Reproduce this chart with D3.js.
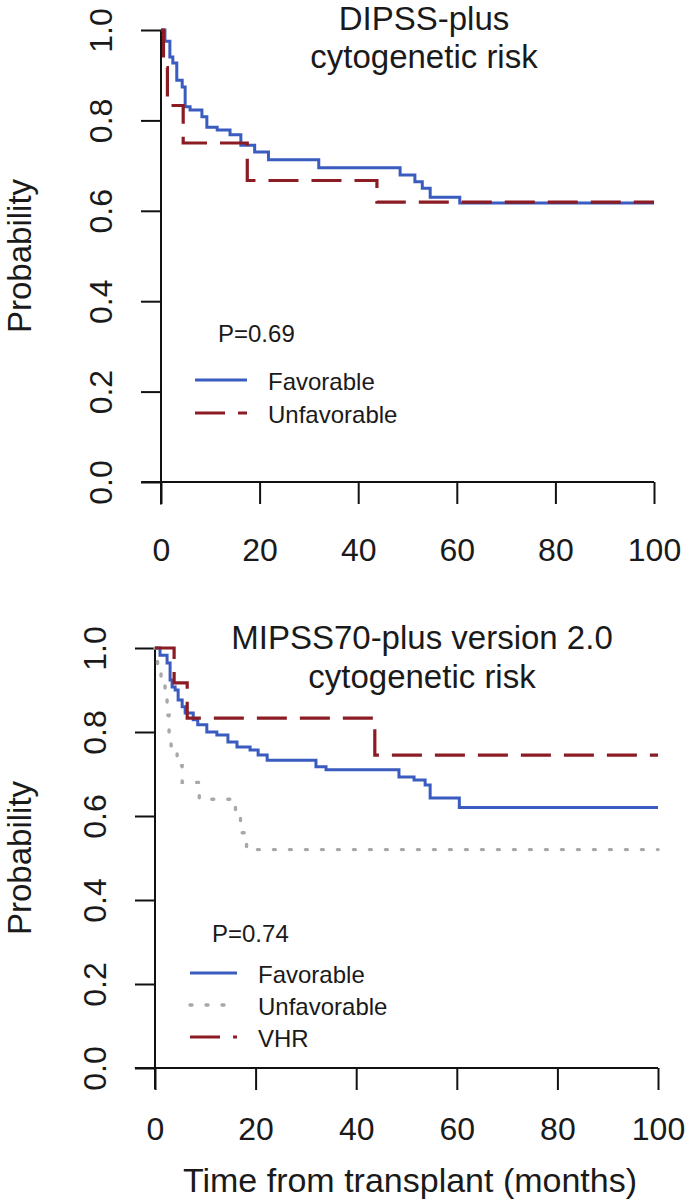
<!DOCTYPE html>
<html>
<head>
<meta charset="utf-8">
<script src="https://cdn.jsdelivr.net/npm/d3@7"></script>
<style>
body { margin: 0; background: #fff; }
text { font-family: "Liberation Sans", Arial, sans-serif; fill: #1a1a1a; }
</style>
</head>
<body>
<script>
const width = 685
const height = 1202

// tick values
const xTicks = [0, 20, 40, 60, 80, 100]
const yTicks = [0, 0.2, 0.4, 0.6, 0.8, 1.0]

// Kaplan-Meier steps: [months, probability]
const dipssFavorable = [[0, 1], [0.8, 0.975], [1.8, 0.94], [2.4, 0.927], [3.2, 0.889], [4.3, 0.874],
    [4.9, 0.83], [5.9, 0.823], [8.3, 0.808], [9.3, 0.785], [11.4, 0.779], [14, 0.768], [16.2, 0.745],
    [19, 0.73], [21.8, 0.713], [32, 0.695], [48.5, 0.679], [51.5, 0.664], [53, 0.65], [54.6, 0.63],
    [60.6, 0.617], [100, 0.617]]
const dipssUnfavorable = [[0, 1], [0.5, 0.917], [1.3, 0.833], [4.5, 0.75], [17.5, 0.667],
    [43.8, 0.619], [100, 0.619]]

const mipssFavorable = [[0, 1], [1, 0.983], [2.4, 0.964], [3, 0.924], [3.4, 0.907], [4, 0.9],
    [4.6, 0.876], [5.4, 0.86], [6, 0.845], [7.6, 0.829], [8.5, 0.817], [10.3, 0.8], [12.3, 0.793],
    [14.5, 0.776], [16.3, 0.764], [18.9, 0.757], [20.5, 0.745], [22.3, 0.733], [32, 0.717],
    [34, 0.71], [48.5, 0.693], [51.5, 0.686], [53.7, 0.674], [54.7, 0.643], [60.5, 0.62], [100, 0.62]]
const mipssUnfavorable = [[0, 1], [0.5, 0.96], [1.2, 0.92], [2, 0.88], [2.4, 0.84], [2.8, 0.8],
    [3.2, 0.76], [4.4, 0.72], [5.4, 0.68], [8.8, 0.64], [16, 0.6], [17, 0.56], [18.2, 0.52], [100, 0.52]]
const mipssVHR = [[0, 1], [3.8, 0.917], [6.4, 0.833], [43.7, 0.745], [100, 0.745]]

const xLabel = "Time from transplant (months)"

const styles = {
    favorable: {stroke: "#3a5bbf", dash: null, width: 3, cap: "butt"},
    unfavorable: {stroke: "#8b1c24", dash: "30,13", width: 3.2, cap: "butt"},
    grey: {stroke: "#a8a8a8", dash: "2,14", width: 3.4, cap: "round"}
}

const panels = [
    {
        title: ["DIPSS-plus", "cytogenetic risk"], titleX: 424, titleY: [30, 68],
        xRange: [161, 654], yRange: [482, 30], tickLabelY: 79,
        p: "P=0.69", pX: 218, pY: 342,
        legendX: 195, legendLen: 52, legendY: 390, legendStep: 33,
        series: [
            {name: "Favorable", data: dipssFavorable, style: styles.favorable},
            {name: "Unfavorable", data: dipssUnfavorable, style: styles.unfavorable}
        ]
    },
    {
        title: ["MIPSS70-plus version 2.0", "cytogenetic risk"], titleX: 422, titleY: [649, 688],
        xRange: [155, 658], yRange: [1068, 648], tickLabelY: 72,
        p: "P=0.74", pX: 212, pY: 942,
        legendX: 190, legendLen: 47, legendY: 983, legendStep: 32,
        series: [
            {name: "Favorable", data: mipssFavorable, style: styles.favorable},
            {name: "Unfavorable", data: mipssUnfavorable, style: styles.grey},
            {name: "VHR", data: mipssVHR, style: styles.unfavorable}
        ]
    }
]

const svg = d3.select("body").append("svg")
    .attr("width", width)
    .attr("height", height)
    .attr("viewBox", [0, 0, width, height])

panels.forEach(pn => {
    const x = d3.scaleLinear().domain([0, 100]).range(pn.xRange)
    const y = d3.scaleLinear().domain([0, 1]).range(pn.yRange)
    const g = svg.append("g")

    // axis lines, running a little past the origin like the original
    g.append("line")
        .attr("x1", x(-4)).attr("x2", x(100))
        .attr("y1", y(0)).attr("y2", y(0))
        .attr("stroke", "#111").attr("stroke-width", 2)
    g.append("line")
        .attr("x1", x(0)).attr("x2", x(0))
        .attr("y1", y(1)).attr("y2", y(-0.05))
        .attr("stroke", "#111").attr("stroke-width", 2)

    const xAxis = g.append("g")
        .attr("transform", `translate(0,${y(0)})`)
        .call(d3.axisBottom(x).tickValues(xTicks).tickSize(22).tickSizeOuter(0))
    xAxis.select(".domain").remove()
    xAxis.selectAll(".tick line").attr("stroke", "#111").attr("stroke-width", 2)
    xAxis.selectAll(".tick text")
        .attr("y", pn.tickLabelY).attr("dy", 0)
        .attr("font-size", 32)
        .attr("fill", "#1a1a1a")

    const yAxis = g.append("g")
        .attr("transform", `translate(${x(0)},0)`)
        .call(d3.axisLeft(y).tickValues(yTicks).tickFormat(d3.format(".1f")).tickSize(20).tickSizeOuter(0))
    yAxis.select(".domain").remove()
    yAxis.selectAll(".tick line").attr("stroke", "#111").attr("stroke-width", 2)
    yAxis.selectAll(".tick text")
        .attr("x", 0).attr("y", 0).attr("dy", 0)
        .attr("transform", "translate(-49,0) rotate(-90)")
        .attr("text-anchor", "middle")
        .attr("font-size", 32)
        .attr("fill", "#1a1a1a")

    g.append("text")
        .attr("transform", `translate(31,${(pn.yRange[0] + pn.yRange[1]) / 2}) rotate(-90)`)
        .attr("text-anchor", "middle")
        .attr("font-size", 33)
        .text("Probability")

    g.selectAll(".title")
        .data(pn.title)
        .join("text")
        .attr("class", "title")
        .attr("x", pn.titleX)
        .attr("y", (d, i) => pn.titleY[i])
        .attr("text-anchor", "middle")
        .attr("font-size", 33)
        .text(d => d)

    const line = d3.line()
        .x(d => x(d[0]))
        .y(d => y(d[1]))
        .curve(d3.curveStepAfter)

    g.selectAll(".km")
        .data(pn.series)
        .join("path")
        .attr("class", "km")
        .attr("fill", "none")
        .attr("d", d => line(d.data))
        .attr("stroke", d => d.style.stroke)
        .attr("stroke-width", d => d.style.width)
        .attr("stroke-dasharray", d => d.style.dash)
        .attr("stroke-linecap", d => d.style.cap)

    // legend
    g.append("text")
        .attr("x", pn.pX).attr("y", pn.pY)
        .attr("font-size", 24)
        .text(pn.p)

    const leg = g.selectAll(".leg")
        .data(pn.series)
        .join("g")
        .attr("class", "leg")
        .attr("transform", (d, i) => `translate(${pn.legendX},${pn.legendY + i * pn.legendStep})`)
    leg.append("line")
        .attr("x1", 0).attr("x2", pn.legendLen)
        .attr("y1", -10).attr("y2", -10)
        .attr("stroke", d => d.style.stroke)
        .attr("stroke-width", d => d.style.width)
        .attr("stroke-dasharray", d => d.style.dash)
        .attr("stroke-linecap", d => d.style.cap)
    leg.append("text")
        .attr("x", pn.legendLen + 21)
        .attr("font-size", 24)
        .text(d => d.name)
})

// shared x-axis title under the lower panel
svg.append("text")
    .attr("x", 410)
    .attr("y", 1192)
    .attr("text-anchor", "middle")
    .attr("font-size", 34)
    .text(xLabel)
</script>
</body>
</html>
